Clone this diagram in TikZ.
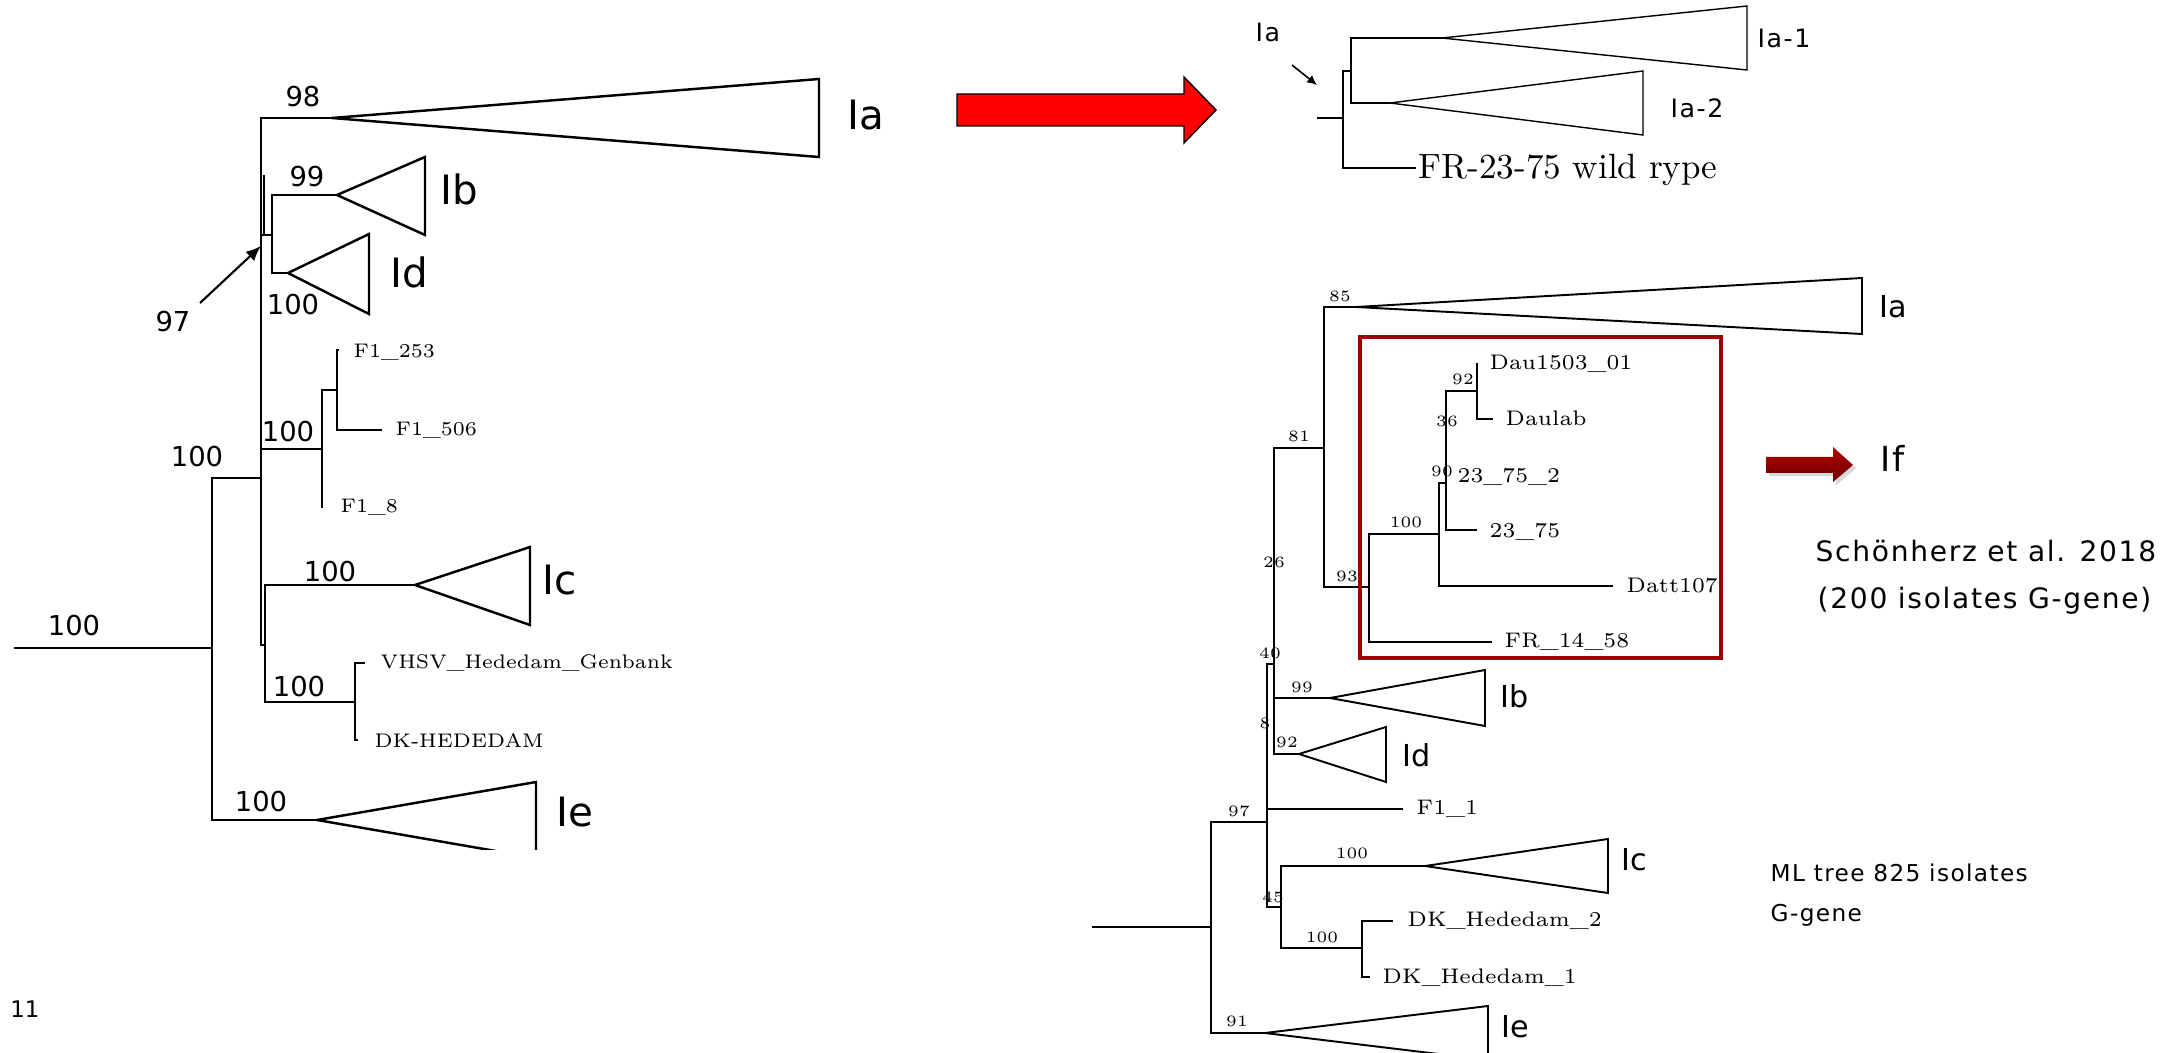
\documentclass[tikz,border=0pt]{standalone}
\usepackage{fontspec}
\newfontfamily\sflab{DejaVu Sans}
\newfontfamily\sfann[LetterSpace=6]{DejaVu Sans}
\usepackage{xcolor}
\definecolor{hotred}{HTML}{FF0000}
\definecolor{boxred}{HTML}{A00000}
\definecolor{deepred}{HTML}{9A0000}
\usetikzlibrary{arrows.meta,shadows}
\tikzset{
  >={Latex[length=4.3pt,width=3.6pt]},
  lbr/.style={draw=black,line width=0.7pt},
  rbr/.style={draw=black,line width=0.55pt},
  ibr/.style={draw=black,line width=0.4pt},
  lbs/.style={inner sep=0,font=\sflab\fontsize{7.8}{9}\selectfont},
  rbs/.style={inner sep=0,font=\fontsize{4.5}{5}\selectfont},
  lleaf/.style={anchor=west,inner sep=0,text depth=0pt,font=\fontsize{5.6}{6}\selectfont},
  rleaf/.style={anchor=west,inner sep=0,text depth=0pt,font=\fontsize{6}{7}\selectfont},
  lgrp/.style={anchor=west,inner sep=0,text depth=0pt,font=\sflab\fontsize{11.5}{13}\selectfont},
  rgrp/.style={anchor=west,inner sep=0,text depth=0pt,font=\sflab\fontsize{8.6}{10}\selectfont},
  igrp/.style={anchor=west,inner sep=0,text depth=0pt,font=\sfann\fontsize{7.2}{8}\selectfont},
  note/.style={anchor=west,inner sep=0,text depth=0pt,font=\sfann\fontsize{8}{9}\selectfont},
  notes/.style={note,font=\sfann\fontsize{6.6}{8}\selectfont},
}

\begin{document}
\begin{tikzpicture}[x=0.1mm,y=-0.1mm]
  \fill[white] (0,0) rectangle (2182,1053);
  \useasboundingbox (0,0) rectangle (2182,1053);

  % left tree: inner nodes, clade tips, leaves
  \coordinate (lr) at (14,648);
  \coordinate (l0) at (212,648);
  \coordinate (l1) at (261,478);
  \coordinate (l97) at (272,235);
  \coordinate (lf) at (322,449);
  \coordinate (lf2) at (337,390);
  \coordinate (lch) at (265,645);
  \coordinate (lhd) at (355,702);
  \coordinate (lIa) at (332,118);
  \coordinate (lIb) at (337,195);
  \coordinate (lId) at (288,273);
  \coordinate (lIc) at (415,585);
  \coordinate (lIe) at (317,820);
  \coordinate (lf253) at (339,350);
  \coordinate (lf506) at (382,430);
  \coordinate (lf8) at (323,507);
  \coordinate (lvh) at (365,663);
  \coordinate (ldk) at (358,740);
  \draw[lbr] (lr) -- (l0);
  \foreach \p/\c in {l0/l1, l0/lIe, l1/lIa, l1/l97, l1/lf, l1/lch, l97/lIb, l97/lId,
                     lf/lf2, lf/lf8, lf2/lf253, lf2/lf506, lch/lIc, lch/lhd, lhd/lvh, lhd/ldk}
    \draw[lbr] (\p) |- (\c);
  \draw[lbr] (264,175) -- (264,235);
  \foreach \a/\x/\t/\b in {lIa/819/79/157, lIb/425/157/235, lId/369/234/314, lIc/530/547/625}
    \draw[lbr] (\a) -- (\x,\t) -- (\x,\b) -- cycle;
  \begin{scope}
    \clip (200,700) rectangle (700,849);
    \draw[lbr] (lIe) -- (536,782) -- (536,858) -- cycle;
  \end{scope}
  \foreach \t/\x/\y [count=\i] in {100/74/626, 100/197/457, 98/303/97, 99/307/177, 100/293/305,
                                   97/173/322, 100/288/432, 100/330/572, 100/299/687, 100/261/802}
    \node[lbs] (lbs\i) at (\x,\y) {\t};
  \coordinate (l97s) at (200,303);
  \coordinate (l97e) at (261,246);
  \draw[->,line width=0.6pt] (l97s) -- (l97e);
  \foreach \t/\x/\y in {Ia/847/115, Ib/440/189, Id/390/272, Ic/542/580, Ie/556/812}
    \node[lgrp] (lg\t) at (\x,\y) {\t};
  \node[lleaf] (lt253) at (353,351) {F1\_253};
  \node[lleaf] (lt506) at (395,429) {F1\_506};
  \node[lleaf] (lt8) at (340,506) {F1\_8};
  \node[lleaf] (ltvh) at (380,662) {VHSV\_Hededam\_Genbank};
  \node[lleaf] (ltdk) at (374,740) {DK-HEDEDAM};

  % red arrow to the Ia close-up
  \draw[black,line width=0.4pt,fill=hotred] (957,94) -- (1184,94) -- (1184,77) -- (1216,110)
    -- (1184,143) -- (1184,126) -- (957,126) -- cycle;

  % Ia close-up
  \coordinate (ir) at (1317,118);
  \coordinate (i0) at (1343,118);
  \coordinate (i1) at (1351,71);
  \coordinate (iIa1) at (1442,38);
  \coordinate (iIa2) at (1390,103);
  \coordinate (ifr) at (1416,168);
  \draw[ibr] (ir) -- (i0);
  \foreach \p/\c in {i0/i1, i0/ifr, i1/iIa1, i1/iIa2}
    \draw[ibr] (\p) |- (\c);
  \foreach \a/\x/\t/\b in {iIa1/1747/6/70, iIa2/1643/71/135}
    \draw[ibr] (\a) -- (\x,\t) -- (\x,\b) -- cycle;
  \node[igrp] (iga) at (1255,32) {Ia};
  \node[igrp] (iga1) at (1757,38) {Ia-1};
  \node[igrp] (iga2) at (1670,108) {Ia-2};
  \node[anchor=west,inner sep=0,text depth=0pt,font=\fontsize{10}{12}\selectfont] (ifrt) at (1418,166) {FR-23-75 wild rype};
  \coordinate (ias) at (1292,65);
  \coordinate (iae) at (1317,85);
  \draw[-{Latex[length=2.8pt,width=2.6pt]},line width=0.45pt] (ias) -- (iae);

  % right tree: inner nodes, clade tips, leaves
  \coordinate (rr) at (1092,927);
  \coordinate (r0) at (1211,927);
  \coordinate (r97) at (1267,822);
  \coordinate (r40) at (1274,664);
  \coordinate (r81) at (1324,448);
  \coordinate (r93) at (1369,587);
  \coordinate (r100) at (1439,534);
  \coordinate (r90) at (1446,483);
  \coordinate (r92) at (1477,391);
  \coordinate (r45) at (1281,907);
  \coordinate (rhd) at (1362,948);
  \coordinate (rIa) at (1356,307);
  \coordinate (rIb) at (1330,698);
  \coordinate (rId) at (1299,754);
  \coordinate (rIc) at (1425,866);
  \coordinate (rIe) at (1265,1033);
  \coordinate (rdau) at (1477,363);
  \coordinate (rdlab) at (1493,419);
  \coordinate (r2375) at (1477,530);
  \coordinate (rdatt) at (1613,586);
  \coordinate (rfr) at (1492,642);
  \coordinate (rf11) at (1403,809);
  \coordinate (rdk2) at (1393,921);
  \coordinate (rdk1) at (1370,977);
  \draw[rbr] (rr) -- (r0);
  \foreach \p/\c in {r0/r97, r0/rIe, r97/r40, r97/rf11, r97/r45, r40/r81, r40/rIb, r40/rId,
                     r81/rIa, r81/r93, r93/r100, r93/rfr, r100/r90, r100/rdatt, r90/r92, r90/r2375,
                     r92/rdau, r92/rdlab, r45/rIc, r45/rhd, rhd/rdk2, rhd/rdk1}
    \draw[rbr] (\p) |- (\c);
  \foreach \a/\x/\t/\b in {rIa/1862/278/334, rIb/1485/670/726, rId/1386/727/782, rIc/1608/839/893}
    \draw[rbr] (\a) -- (\x,\t) -- (\x,\b) -- cycle;
  \begin{scope}
    \clip (1200,990) rectangle (1520,1053);
    \draw[rbr] (rIe) -- (1488,1006) -- (1488,1060) -- cycle;
  \end{scope}
  \foreach \t/\x/\y [count=\i] in {85/1340/296, 81/1299/436, 93/1347/576, 100/1406/522, 90/1442/471,
                                   36/1447/421, 92/1463/379, 26/1274/562, 40/1270/653, 99/1302/687,
                                   8/1265/723, 92/1287/742, 97/1239/811, 100/1352/853, 45/1273/897,
                                   100/1322/937, 91/1237/1021}
    \node[rbs] (rbs\i) at (\x,\y) {\t};
  \foreach \t/\x/\y in {Ia/1879/306, Ib/1500/696, Id/1402/755, Ic/1621/859, Ie/1501/1026}
    \node[rgrp] (rg\t) at (\x,\y) {\t};
  \node[rleaf] (rtdau) at (1489,362) {Dau1503\_01};
  \node[rleaf] (rtdlab) at (1505,418) {Daulab};
  \node[rleaf] (rt23b) at (1457,475) {23\_75\_2};
  \node[rleaf] (rt23) at (1489,530) {23\_75};
  \node[rleaf] (rtdatt) at (1626,585) {Datt107};
  \node[rleaf] (rtfr) at (1504,640) {FR\_14\_58};
  \node[rleaf] (rtf11) at (1416,807) {F1\_1};
  \node[rleaf] (rtdk2) at (1407,919) {DK\_Hededam\_2};
  \node[rleaf] (rtdk1) at (1382,976) {DK\_Hededam\_1};

  % If group
  \draw[boxred,line width=1.4pt] (1360,337) rectangle (1721,658);
  \path[drop shadow={opacity=0.3,shadow xshift=0.9pt,shadow yshift=-0.9pt},
        top color=deepred!80!red,bottom color=deepred!70!black]
    (1766,457) -- (1833,457) -- (1833,447) -- (1853,465) -- (1833,482) -- (1833,473) -- (1766,473) -- cycle;
  \node[note,font=\sfann\fontsize{9.8}{11}\selectfont] (nif) at (1880,458) {If};
  \node[note] (ncite) at (1815,551) {Schönherz et al. 2018};
  \node[note] (nsub) at (1817,598) {(200 isolates G-gene)};
  \node[notes] (nml) at (1770,873) {ML tree 825 isolates};
  \node[notes] (ngg) at (1770,913) {G-gene};
  \node[inner sep=0,font=\sflab\fontsize{6.5}{8}\selectfont] (npage) at (25,1009) {11};
\end{tikzpicture}
\end{document}
